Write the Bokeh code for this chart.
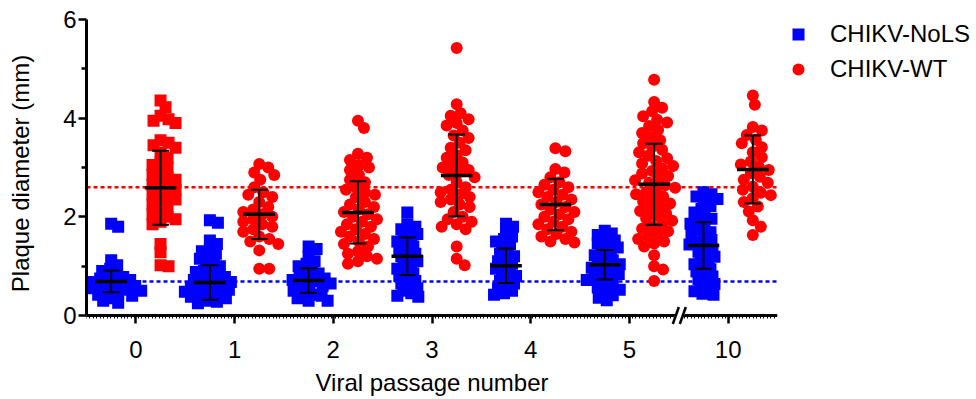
import numpy as np
from bokeh.plotting import figure
from bokeh.models import (FixedTicker, Legend, LegendItem, Range1d, Span, Arrow, LinearAxis)
from bokeh.embed import file_html
from bokeh.resources import INLINE

# ---------------- data ----------------
passages = ["0", "1", "2", "3", "4", "5", "10"]

nols_0 = [1.86, 1.80, 1.12, 1.02, 0.95, 0.90, 0.85, 0.80, 0.78, 0.75, 0.72, 0.70, 0.68, 0.65,
          0.62, 0.60, 0.58, 0.55, 0.55, 0.52, 0.50, 0.48, 0.45, 0.42, 0.40, 0.35, 0.30, 0.26]
nols_1 = [1.93, 1.88, 1.52, 1.45, 1.35, 1.30, 1.25, 1.20, 1.15, 1.10, 1.05, 1.00, 0.95, 0.90,
          0.88, 0.85, 0.80, 0.78, 0.75, 0.72, 0.70, 0.68, 0.65, 0.62, 0.60, 0.58, 0.55, 0.52,
          0.50, 0.48, 0.45, 0.42, 0.40, 0.38, 0.35, 0.30, 0.28, 0.25]
nols_2 = [1.40, 1.35, 1.20, 1.10, 1.05, 1.00, 0.95, 0.90, 0.85, 0.80, 0.78, 0.75, 0.72, 0.70,
          0.68, 0.65, 0.62, 0.60, 0.55, 0.50, 0.45, 0.42, 0.40, 0.35, 0.30, 0.30]
nols_3 = [2.09, 1.85, 1.80, 1.75, 1.70, 1.65, 1.60, 1.55, 1.50, 1.45, 1.40, 1.35, 1.30, 1.25,
          1.20, 1.15, 1.10, 1.05, 1.00, 0.95, 0.90, 0.85, 0.80, 0.75, 0.70, 0.65, 0.60, 0.55,
          0.50, 0.45, 0.40, 0.38]
nols_4 = [1.86, 1.80, 1.70, 1.60, 1.55, 1.50, 1.45, 1.40, 1.30, 1.25, 1.20, 1.15, 1.10, 1.05,
          1.00, 0.95, 0.90, 0.85, 0.80, 0.75, 0.70, 0.65, 0.60, 0.55, 0.50, 0.45, 0.42]
nols_5 = [1.72, 1.66, 1.63, 1.55, 1.52, 1.47, 1.41, 1.38, 1.33, 1.27, 1.22, 1.18, 1.12, 1.08,
          1.04, 1.01, 0.97, 0.93, 0.88, 0.84, 0.80, 0.77, 0.72, 0.66, 0.61, 0.57, 0.52, 0.46,
          0.41, 0.36, 0.31]
nols_10 = [2.50, 2.46, 2.41, 2.36, 2.31, 2.22, 2.16, 2.09, 2.02, 1.96, 1.91, 1.86, 1.80, 1.74,
           1.69, 1.64, 1.58, 1.53, 1.48, 1.44, 1.39, 1.34, 1.29, 1.24, 1.19, 1.14, 1.09, 1.04,
           0.99, 0.94, 0.89, 0.84, 0.79, 0.74, 0.69, 0.64, 0.59, 0.54, 0.49, 0.44, 0.42]

wt_0 = [4.36, 4.22, 4.05, 3.98, 3.95, 3.90, 3.55, 3.50, 3.45, 3.40, 3.30, 3.20, 3.10, 3.05,
        3.00, 2.90, 2.85, 2.80, 2.75, 2.70, 2.65, 2.60, 2.55, 2.50, 2.45, 2.40, 2.35, 2.30,
        2.25, 2.20, 2.10, 2.05, 2.00, 1.95, 1.90, 1.85, 1.45, 1.28, 1.02, 1.00]
wt_1 = [3.07, 3.00, 2.90, 2.85, 2.75, 2.60, 2.50, 2.45, 2.40, 2.30, 2.20, 2.15, 2.10, 2.05,
        2.00, 1.95, 1.90, 1.85, 1.80, 1.75, 1.70, 1.60, 1.55, 1.50, 1.45, 1.32, 0.95, 0.95]
wt_2 = [3.95, 3.80, 3.28, 3.20, 3.15, 3.05, 3.00, 2.95, 2.85, 2.75, 2.70, 2.60, 2.55, 2.50,
        2.45, 2.40, 2.30, 2.25, 2.20, 2.15, 2.10, 2.05, 2.00, 1.95, 1.90, 1.85, 1.80, 1.75,
        1.70, 1.65, 1.60, 1.55, 1.50, 1.45, 1.40, 1.30, 1.25, 1.20, 1.15, 1.10, 1.05]
wt_3 = [5.42, 4.28, 4.10, 4.05, 3.98, 3.90, 3.85, 3.75, 3.65, 3.60, 3.50, 3.40, 3.35, 3.25,
        3.20, 3.10, 3.05, 3.00, 2.95, 2.90, 2.85, 2.80, 2.70, 2.60, 2.55, 2.50, 2.45, 2.40,
        2.35, 2.30, 2.25, 2.20, 2.10, 2.00, 1.95, 1.90, 1.85, 1.80, 1.75, 1.40, 1.15, 1.02]
wt_4 = [3.39, 3.33, 2.97, 2.90, 2.80, 2.70, 2.65, 2.60, 2.55, 2.50, 2.45, 2.40, 2.35, 2.30,
        2.25, 2.20, 2.15, 2.10, 2.05, 2.00, 1.95, 1.90, 1.85, 1.80, 1.75, 1.70, 1.65, 1.60,
        1.55, 1.50, 1.48]
wt_5 = [4.78, 4.33, 4.21, 4.14, 4.04, 3.97, 3.91, 3.84, 3.76, 3.70, 3.62, 3.55, 3.49, 3.42,
        3.36, 3.31, 3.24, 3.19, 3.13, 3.08, 3.03, 2.98, 2.93, 2.88, 2.83, 2.78, 2.74, 2.69,
        2.64, 2.59, 2.55, 2.50, 2.46, 2.41, 2.36, 2.31, 2.27, 2.22, 2.17, 2.12, 2.07, 2.02,
        1.97, 1.92, 1.86, 1.81, 1.76, 1.71, 1.66, 1.61, 1.55, 1.50, 1.46, 1.40, 1.22, 1.00,
        0.93, 0.70]
wt_10 = [4.46, 4.27, 3.82, 3.75, 3.66, 3.56, 3.49, 3.41, 3.31, 3.21, 3.12, 3.06, 3.01, 2.95,
         2.89, 2.81, 2.75, 2.69, 2.61, 2.55, 2.49, 2.44, 2.38, 2.30, 2.21, 2.11, 1.93, 1.80,
         1.63]

nols_groups = [nols_0, nols_1, nols_2, nols_3, nols_4, nols_5, nols_10]
wt_groups = [wt_0, wt_1, wt_2, wt_3, wt_4, wt_5, wt_10]

nols_mean = [0.69, 0.67, 0.71, 1.20, 1.01, 1.03, 1.42]
nols_sd = [0.22, 0.35, 0.25, 0.38, 0.35, 0.30, 0.47]
wt_mean = [2.59, 2.05, 2.09, 2.84, 2.25, 2.66, 2.96]
wt_sd = [0.75, 0.50, 0.63, 0.83, 0.52, 0.82, 0.69]

nols_reference = 0.69
wt_reference = 2.60

# ---------------- layout constants ----------------
FRAME_W = 691
X0, X1, Y0, Y1 = -0.5, 6.5, 0.0, 6.0
PX_X = FRAME_W / (X1 - X0)
PX_Y = 296 / (Y1 - Y0)
PAD_PX = 12
Y_PAD = PAD_PX / PX_Y          # room below y=0 so the axis-break marks are not clipped
FRAME_H = 296 + PAD_PX
BLUE, RED = "#0000FF", "#FF0000"
FONT = "Liberation Sans"
OFF = 0.25


def swarm(ys, center, d_px):
    """Beeswarm layout: place each point at the smallest horizontal offset free of overlap."""
    ys = np.asarray(ys, dtype=float)
    order = np.argsort(-ys)
    placed = []
    xs = np.zeros(len(ys))
    for i in order:
        yp = ys[i] * PX_Y
        chosen = 0.0
        for k in range(0, 80):
            cands = [0.0] if k == 0 else [float(k), -float(k)]
            found = None
            for off in cands:
                if all((off - px) ** 2 + (yp - py) ** 2 >= d_px ** 2 for px, py in placed):
                    found = off
                    break
            if found is not None:
                chosen = found
                break
        placed.append((chosen, yp))
        xs[i] = center + chosen / PX_X
    return xs


p = figure(frame_width=FRAME_W, frame_height=FRAME_H,
           x_range=Range1d(X0, X1), y_range=Range1d(Y0 - Y_PAD, Y1),
           output_backend="svg", toolbar_location=None,
           min_border_left=86, min_border_right=199, min_border_top=19, min_border_bottom=72)
p.outline_line_color = None
p.xgrid.visible = False
p.ygrid.visible = False
p.background_fill_color = "white"
p.border_fill_color = "white"

# reference dashed lines
p.add_layout(Span(location=wt_reference, dimension="width", line_color=RED,
                  line_width=2.5, line_dash="4 3", level="underlay"))
p.add_layout(Span(location=nols_reference, dimension="width", line_color=BLUE,
                  line_width=2.5, line_dash="4 3", level="underlay"))

positions = list(range(len(passages)))

nols_x, nols_y = [], []
for pos, vals in zip(positions, nols_groups):
    nols_x.extend(swarm(vals, pos - OFF, 7.5))
    nols_y.extend(vals)
r_nols = p.scatter(nols_x, nols_y, marker="square", size=12, fill_color=BLUE, line_color=None)

wt_sq_x, wt_sq_y, wt_c_x, wt_c_y = [], [], [], []
for pos, vals in zip(positions, wt_groups):
    if pos == 0:
        xs = swarm(vals, pos + OFF, 8.0)
        wt_sq_x.extend(xs); wt_sq_y.extend(vals)
    else:
        xs = swarm(vals, pos + OFF, 9.5)
        wt_c_x.extend(xs); wt_c_y.extend(vals)
p.scatter(wt_sq_x, wt_sq_y, marker="square", size=12, fill_color=RED, line_color=None)
r_wt = p.scatter(wt_c_x, wt_c_y, marker="circle", size=12, fill_color=RED, line_color=None)

# mean +/- SD
for centers, means, sds in ((np.array(positions) - OFF, nols_mean, nols_sd),
                            (np.array(positions) + OFF, wt_mean, wt_sd)):
    m = np.array(means); s = np.array(sds)
    p.segment(centers - 0.16, m, centers + 0.16, m, line_color="black", line_width=3.5)
    p.segment(centers, m - s, centers, m + s, line_color="black", line_width=2)
    p.segment(centers - 0.085, m + s, centers + 0.085, m + s, line_color="black", line_width=2)
    p.segment(centers - 0.085, m - s, centers + 0.085, m - s, line_color="black", line_width=2)

# x axis line + ticks drawn at y = 0 (inside the frame); its labels come from the axis below
xticker = FixedTicker(ticks=positions,
                      minor_ticks=[round(X0 + 0.035 * i, 4) for i in range(int((X1 - X0) / 0.035) + 1)])
xa = p.xaxis[0]
xa.ticker = xticker
xa.fixed_location = 0
xa.axis_line_width = 3
xa.axis_line_color = "black"
xa.major_tick_line_width = 2.5
xa.major_tick_line_color = "black"
xa.major_tick_in = 0
xa.major_tick_out = 8
xa.minor_tick_in = 0
xa.minor_tick_out = 3
xa.minor_tick_line_width = 1
xa.minor_tick_line_color = "black"
xa.major_label_overrides = {i: "" for i in positions}
xa.major_label_text_font = FONT
xa.major_label_text_font_size = "24px"
xa.major_label_standoff = 0

# x tick labels and title (second axis in the bottom panel)
xl = LinearAxis(ticker=FixedTicker(ticks=positions),
                major_label_overrides={i: lab for i, lab in enumerate(passages)},
                axis_label="Viral passage number",
                axis_line_color=None, major_tick_line_color=None, minor_tick_line_color=None,
                major_tick_in=0, major_tick_out=0, minor_tick_in=0, minor_tick_out=0,
                major_label_standoff=13, axis_label_standoff=8,
                major_label_text_font=FONT, major_label_text_font_size="24px",
                major_label_text_color="black",
                axis_label_text_font=FONT, axis_label_text_font_size="24px",
                axis_label_text_font_style="normal", axis_label_text_color="black")
p.add_layout(xl, "below")

ya = p.yaxis[0]
ya.ticker = FixedTicker(ticks=[0, 2, 4, 6], minor_ticks=[1, 3, 5])
ya.axis_label = "Plaque diameter (mm)"
ya.bounds = (Y0, Y1)
ya.axis_line_width = 3
ya.axis_line_color = "black"
ya.major_tick_line_width = 2.5
ya.major_tick_line_color = "black"
ya.major_tick_in = 0
ya.major_tick_out = 8
ya.minor_tick_in = 0
ya.minor_tick_out = 5
ya.minor_tick_line_width = 2.5
ya.minor_tick_line_color = "black"
ya.major_label_text_font = FONT
ya.major_label_text_font_size = "24px"
ya.major_label_text_color = "black"
ya.major_label_standoff = 2
ya.axis_label_text_font = FONT
ya.axis_label_text_font_size = "24px"
ya.axis_label_text_font_style = "normal"
ya.axis_label_text_color = "black"
ya.axis_label_standoff = 26

# axis break marks between "5" and "10"
bx = 5.47
dx, dy = 3.0 / PX_X, 8.5 / PX_Y
gap = 7.0 / PX_X
p.add_layout(Arrow(start=None, end=None, x_start=bx - dx, y_start=-dy, x_end=bx + gap + dx, y_end=dy,
                   line_color="white", line_width=7))
for sx in (bx, bx + gap):
    p.add_layout(Arrow(start=None, end=None, x_start=sx - dx, y_start=-dy, x_end=sx + dx, y_end=dy,
                       line_color="black", line_width=2.5))

# legend (outside the frame, right panel)
legend = Legend(items=[LegendItem(label="CHIKV-NoLS", renderers=[r_nols]),
                       LegendItem(label="CHIKV-WT", renderers=[r_wt])],
                location="top_left", orientation="vertical",
                glyph_width=42, glyph_height=30, spacing=5, padding=0, margin=0,
                label_standoff=11, label_text_font=FONT, label_text_font_size="24px",
                label_text_color="black", border_line_color=None, background_fill_alpha=0)
p.add_layout(legend, "right")

open("out.html", "w").write(file_html(p, INLINE))
